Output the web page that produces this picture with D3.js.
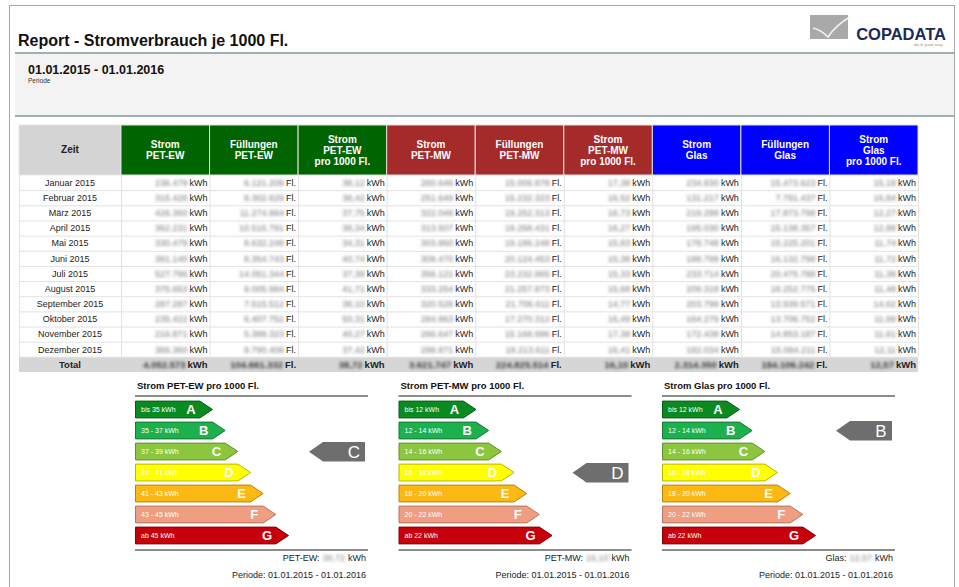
<!DOCTYPE html>
<html>
<head>
<meta charset="utf-8">
<script src="https://cdn.jsdelivr.net/npm/d3@7"></script>
<style>
  body { margin: 0; background: #fff; }
  svg { display: block; font-family: "Liberation Sans", Arial, sans-serif; }
</style>
</head>
<body>
<div id="chart"></div>
<script>
// table data
var months = ["Januar 2015", "Februar 2015", "März 2015", "April 2015", "Mai 2015", "Juni 2015",
    "Juli 2015", "August 2015", "September 2015", "Oktober 2015", "November 2015", "Dezember 2015"];
var stromEW = [236479, 315426, 426360, 362231, 330479, 381140, 527786, 375653, 287287, 235422, 216871, 366360];
var fuellEW = [6121209, 8302629, 11274884, 10516791, 8632248, 8354743, 14051344, 9005984, 7515512, 6407752, 5388323, 9790408];
var proEW = [38.12, 38.42, 37.75, 38.34, 34.31, 40.74, 37.38, 41.71, 38.10, 50.31, 40.27, 37.42];
var stromMW = [260646, 251649, 322048, 313507, 303860, 309470, 356121, 333254, 320526, 284863, 266647, 298871];
var fuellMW = [15006878, 15232323, 19252313, 19268431, 19186248, 20124453, 23232865, 21257873, 21706611, 17270312, 15168896, 18213611];
var proMW = [17.38, 16.52, 16.73, 16.27, 15.83, 15.38, 15.33, 15.68, 14.77, 16.49, 17.38, 16.41];
var stromGlas = [234830, 131217, 219298, 195030, 178748, 188799, 233714, 209318, 203798, 164279, 172438, 182034];
var fuellGlas = [15473623, 7791437, 17873798, 15138357, 15225201, 16132798, 20475788, 18252775, 13939571, 13706752, 14853187, 15084211];
var proGlas = [15.18, 16.84, 12.27, 12.88, 11.74, 11.72, 11.38, 11.48, 14.62, 11.99, 11.61, 12.11];
var totals = [4052573, 104661332, 38.72, 3621747, 224825514, 16.10, 2314350, 184106242, 12.57];

var headerLabels = [["Strom", "PET-EW"], ["Füllungen", "PET-EW"], ["Strom", "PET-EW", "pro 1000 Fl."],
    ["Strom", "PET-MW"], ["Füllungen", "PET-MW"], ["Strom", "PET-MW", "pro 1000 Fl."],
    ["Strom", "Glas"], ["Füllungen", "Glas"], ["Strom", "Glas", "pro 1000 Fl."]];
var units = ["kWh", "Fl.", "kWh", "kWh", "Fl.", "kWh", "kWh", "Fl.", "kWh"];

// energy labels
var classes = ["A", "B", "C", "D", "E", "F", "G"];
var rangesEW = ["bis 35 kWh", "35 - 37 kWh", "37 - 39 kWh", "39 - 41 kWh", "41 - 43 kWh", "43 - 45 kWh", "ab 45 kWh"];
var rangesMW = ["bis 12 kWh", "12 - 14 kWh", "14 - 16 kWh", "16 - 18 kWh", "18 - 20 kWh", "20 - 22 kWh", "ab 22 kWh"];
var rangesGlas = ["bis 12 kWh", "12 - 14 kWh", "14 - 16 kWh", "16 - 18 kWh", "18 - 20 kWh", "20 - 22 kWh", "ab 22 kWh"];
var sectionTitles = ["Strom PET-EW pro 1000 Fl.", "Strom PET-MW pro 1000 Fl.", "Strom Glas pro 1000 Fl."];
var sectionShort = ["PET-EW", "PET-MW", "Glas"];
var sectionClass = ["C", "D", "B"];
var sectionValue = [38.72, 16.10, 12.57];

var W = 959, H = 587;
var de = d3.formatLocale({decimal: ",", thousands: ".", grouping: [3], currency: ["", "€"]});
var fmtInt = de.format(",d"), fmtDec = de.format(",.2f");

var svg = d3.select("#chart").append("svg").attr("width", W).attr("height", H);

var defs = svg.append("defs");
defs.append("filter").attr("id", "blur")
    .attr("x", "-20%").attr("y", "-60%").attr("width", "140%").attr("height", "220%")
    .append("feGaussianBlur").attr("stdDeviation", 1.4);

//page frame
svg.append("rect").attr("x", 9.5).attr("y", 5.5).attr("width", 945).attr("height", 600)
    .attr("fill", "#fff").attr("stroke", "#a8a8a8");

//header
svg.append("text").attr("x", 18).attr("y", 46)
    .attr("font-size", 16).attr("font-weight", "bold").attr("fill", "#111")
    .text("Report - Stromverbrauch je 1000 Fl.");

svg.append("rect").attr("x", 15).attr("y", 54).attr("width", 939).attr("height", 62).attr("fill", "#f3f3f3");
[53, 116].forEach(function(y){
    svg.append("line").attr("x1", 15).attr("x2", 954).attr("y1", y).attr("y2", y)
        .attr("stroke", "#9fb0b5").attr("stroke-width", 2);
});
svg.append("text").attr("x", 28).attr("y", 74).attr("font-size", 12.5).attr("font-weight", "bold")
    .attr("fill", "#111").text("01.01.2015 - 01.01.2016");
svg.append("text").attr("x", 28).attr("y", 83).attr("font-size", 6.5).attr("fill", "#333").text("Periode");

//logo
var logo = svg.append("g");
logo.append("rect").attr("x", 810).attr("y", 15).attr("width", 38).attr("height", 24).attr("fill", "#a9a9a9");
logo.append("path").attr("d", "M813,28 C818,29 823,32 828,37 C834,28 841,22 850,17")
    .attr("fill", "none").attr("stroke", "#f2f2f2").attr("stroke-width", 1.6);
logo.append("text").attr("x", 946).attr("y", 40).attr("text-anchor", "end")
    .attr("font-size", 16.5).attr("font-weight", "bold").attr("fill", "#1b2a58").text("COPADATA");
logo.append("text").attr("x", 943).attr("y", 46).attr("text-anchor", "end")
    .attr("font-size", 5).attr("font-family", "Liberation Serif, serif").attr("fill", "#888").text("do it your way");

//table
var tableLeft = 19, zeitRight = 121, tableRight = 918;
var headTop = 125, headBottom = 175;
var colX = d3.scaleBand().domain(d3.range(9)).range([zeitRight, tableRight]);
var rowY = d3.scaleBand().domain(d3.range(13)).range([headBottom, 372]);
var groupColor = ["#006400", "#a52a2a", "#0000ff"];

var columns = [stromEW, fuellEW, proEW, stromMW, fuellMW, proMW, stromGlas, fuellGlas, proGlas];

var table = svg.append("g");
table.append("rect").attr("x", tableLeft).attr("y", headTop)
    .attr("width", zeitRight - tableLeft).attr("height", headBottom - headTop)
    .attr("fill", "#d4d4d4").attr("stroke", "#e6e6e6");
table.append("text").attr("x", (tableLeft + zeitRight) / 2).attr("y", 153)
    .attr("text-anchor", "middle").attr("font-size", 10).attr("font-weight", "bold").attr("fill", "#222").text("Zeit");

var heads = table.selectAll(".head").data(headerLabels).enter().append("g").attr("class", "head");
heads.append("rect")
    .attr("x", function(d, i){ return colX(i); })
    .attr("y", headTop)
    .attr("width", colX.bandwidth())
    .attr("height", headBottom - headTop)
    .attr("fill", function(d, i){ return groupColor[Math.floor(i / 3)]; })
    .attr("stroke", "#e0e0e0");
heads.each(function(d, i){
    var g = d3.select(this);
    var cy = (headTop + headBottom) / 2 + 3.5 - (d.length - 1) * 5.5;
    d.forEach(function(line, j){
        g.append("text").attr("x", colX(i) + colX.bandwidth() / 2).attr("y", cy + j * 11)
            .attr("text-anchor", "middle").attr("font-size", 10).attr("font-weight", "bold")
            .attr("fill", "#fff").text(line);
    });
});

//total row background
table.append("rect").attr("x", tableLeft).attr("y", rowY(12))
    .attr("width", tableRight - tableLeft).attr("height", rowY.bandwidth()).attr("fill", "#d6d6d6");

//grid lines
table.selectAll(".hline").data(d3.range(1, 13)).enter().append("line")
    .attr("x1", tableLeft).attr("x2", tableRight)
    .attr("y1", function(d){ return rowY(d) + 0.5; })
    .attr("y2", function(d){ return rowY(d) + 0.5; })
    .attr("stroke", "#e2e2e2");
table.selectAll(".vline").data(d3.range(10)).enter().append("line")
    .attr("x1", function(d){ return (d < 9 ? colX(d) : tableRight) + 0.5; })
    .attr("x2", function(d){ return (d < 9 ? colX(d) : tableRight) + 0.5; })
    .attr("y1", headBottom).attr("y2", rowY(12))
    .attr("stroke", "#e2e2e2");
table.append("line").attr("x1", tableLeft + 0.5).attr("x2", tableLeft + 0.5)
    .attr("y1", headBottom).attr("y2", rowY(12)).attr("stroke", "#e2e2e2");

//month labels
table.selectAll(".month").data(months.concat(["Total"])).enter().append("text")
    .attr("x", (tableLeft + zeitRight) / 2)
    .attr("y", function(d, i){ return rowY(i) + rowY.bandwidth() / 2 + 3.3; })
    .attr("text-anchor", "middle")
    .attr("font-size", function(d, i){ return i == 12 ? 9.5 : 9; })
    .attr("font-weight", function(d, i){ return i == 12 ? "bold" : "normal"; })
    .attr("fill", "#222")
    .text(function(d){ return d; });

function cell(value, col, row){
    var bold = row == 12;
    var right = colX(col) + colX.bandwidth() - 2;
    var y = rowY(row) + rowY.bandwidth() / 2 + 3.3;
    var unit = table.append("text").attr("x", right).attr("y", y).attr("text-anchor", "end")
        .attr("font-size", bold ? 9.5 : 9).attr("font-weight", bold ? "bold" : "normal")
        .attr("fill", "#222").text(units[col]);
    var uw = unit.node().getComputedTextLength();
    table.append("text").attr("x", right - uw - 2).attr("y", y).attr("text-anchor", "end")
        .attr("font-size", bold ? 9.5 : 9).attr("font-weight", bold ? "bold" : "normal")
        .attr("fill", bold ? "#3a3a3a" : "#7a7a7a").attr("filter", "url(#blur)")
        .text(col % 3 == 2 ? fmtDec(value) : fmtInt(value));
}
columns.forEach(function(values, c){
    values.forEach(function(v, r){ cell(v, c, r); });
    cell(totals[c], c, 12);
});

//energy label sections
var sectionX = d3.scaleLinear().domain([0, 2]).range([135, 662]);
var sectionW = 233;
var classY = d3.scaleBand().domain(classes).range([399, 546]).paddingInner(0.2).paddingOuter(0.1);
var classLen = d3.scaleLinear().domain([0, 6]).range([77, 153]);
var classFill = ["#0c8a22", "#1db04c", "#8cc63f", "#ffff00", "#fdb913", "#ef9e82", "#c5000b"];
var classStroke = ["#075f16", "#137a34", "#62902b", "#b8b800", "#b98508", "#b87560", "#8a0007"];
var rangeSets = [rangesEW, rangesMW, rangesGlas];

function arrowPath(x, y, len, h){
    var tip = h * 0.75;
    return "M" + x + "," + y + "H" + (x + len - tip) + "L" + (x + len) + "," + (y + h / 2) +
        "L" + (x + len - tip) + "," + (y + h) + "H" + x + "Z";
}

sectionTitles.forEach(function(title, s){
    var x0 = sectionX(s);
    var g = svg.append("g");
    g.append("text").attr("x", x0 + 2).attr("y", 389).attr("font-size", 9.5).attr("font-weight", "bold")
        .attr("fill", "#111").text(title);
    g.append("line").attr("x1", x0).attr("x2", x0 + sectionW).attr("y1", 396).attr("y2", 396)
        .attr("stroke", "#666").attr("stroke-width", 1.3);

    var bars = g.selectAll(".cls").data(classes).enter().append("g");
    bars.append("path")
        .attr("d", function(d, i){ return arrowPath(x0 + 0.5, classY(d), classLen(i), classY.bandwidth()); })
        .attr("fill", function(d, i){ return classFill[i]; })
        .attr("stroke", function(d, i){ return classStroke[i]; })
        .attr("stroke-width", 1);
    bars.append("text")
        .attr("x", x0 + 6)
        .attr("y", function(d){ return classY(d) + classY.bandwidth() / 2 + 2.5; })
        .attr("font-size", 7).attr("fill", "#fff")
        .text(function(d, i){ return rangeSets[s][i]; });
    bars.append("text")
        .attr("x", function(d, i){ return x0 + classLen(i) - 21; })
        .attr("y", function(d){ return classY(d) + classY.bandwidth() / 2 + 4.7; })
        .attr("text-anchor", "middle").attr("font-size", 13).attr("font-weight", "bold").attr("fill", "#fff")
        .text(function(d){ return d; });

    //indicator
    var cls = sectionClass[s];
    var iy = classY(cls) - 1, ih = classY.bandwidth() + 2.5, iRight = x0 + sectionW - 3;
    g.append("path")
        .attr("d", "M" + (iRight - 56) + "," + (iy + ih / 2) + "L" + (iRight - 42) + "," + iy +
            "H" + iRight + "V" + (iy + ih) + "H" + (iRight - 42) + "Z")
        .attr("fill", "#6e6e6e");
    g.append("text").attr("x", iRight - 11).attr("y", iy + ih / 2 + 6)
        .attr("text-anchor", "middle").attr("font-size", 17).attr("fill", "#fff").text(cls);

    //footer
    g.append("line").attr("x1", x0).attr("x2", x0 + sectionW).attr("y1", 550).attr("y2", 550)
        .attr("stroke", "#666").attr("stroke-width", 1.3);
    var kwh = g.append("text").attr("x", x0 + sectionW - 2).attr("y", 561).attr("text-anchor", "end")
        .attr("font-size", 9).attr("fill", "#222").text("kWh");
    var kw = kwh.node().getComputedTextLength();
    var val = g.append("text").attr("x", x0 + sectionW - 2 - kw - 3).attr("y", 561).attr("text-anchor", "end")
        .attr("font-size", 9).attr("fill", "#8a8a8a").attr("filter", "url(#blur)").text(fmtDec(sectionValue[s]));
    var vw = val.node().getComputedTextLength();
    g.append("text").attr("x", x0 + sectionW - 2 - kw - 3 - vw - 3).attr("y", 561).attr("text-anchor", "end")
        .attr("font-size", 9).attr("fill", "#222").text(sectionShort[s] + ":");
    g.append("text").attr("x", x0 + sectionW - 2).attr("y", 578).attr("text-anchor", "end")
        .attr("font-size", 9).attr("fill", "#222").text("Periode: 01.01.2015 - 01.01.2016");
});
</script>
</body>
</html>
